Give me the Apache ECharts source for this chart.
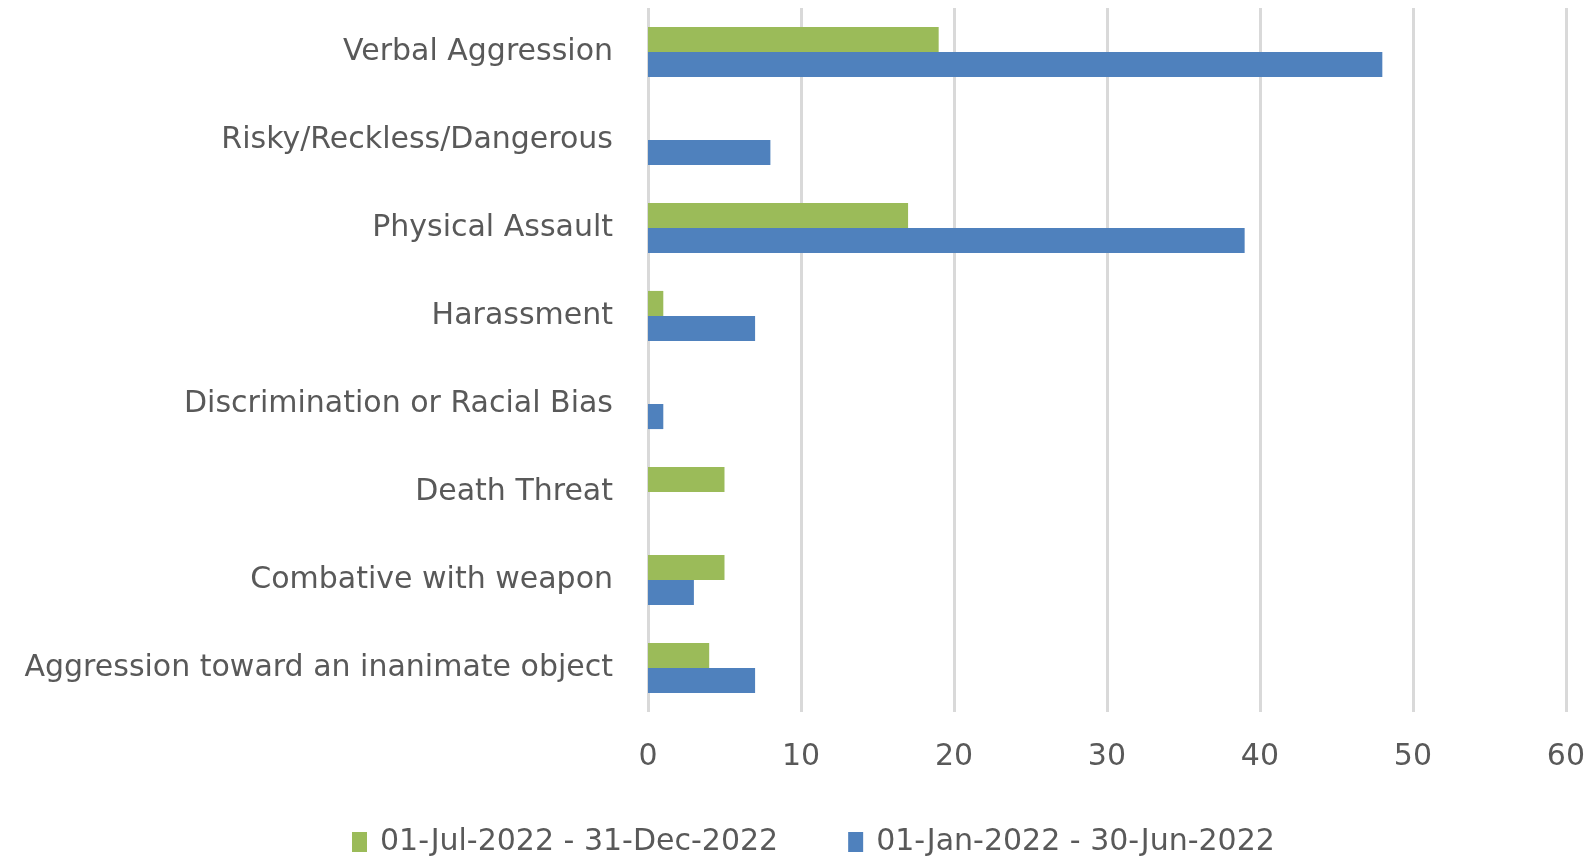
<!DOCTYPE html>
<html><head><meta charset="utf-8">
<script src="https://cdn.jsdelivr.net/npm/echarts@6/dist/echarts.min.js"></script>
<style>html,body{margin:0;padding:0;background:#fff}#c{width:1588px;height:856px}</style>
</head><body><div id="c"></div>
<script>
const categories = ["Aggression toward an inanimate object","Combative with weapon","Death Threat","Discrimination or Racial Bias","Harassment","Physical Assault","Risky/Reckless/Dangerous","Verbal Aggression"];
const seriesNames = ["01-Jul-2022 - 31-Dec-2022","01-Jan-2022 - 30-Jun-2022"];
const julDec = [4,5,5,0,1,17,0,19];
const janJun = [7,3,0,1,7,39,8,48];
const xTicks = [0,10,20,30,40,50,60];

const font = "DejaVu Sans";
const chart = echarts.init(document.getElementById('c'));
chart.setOption({
  animation:false,
  textStyle:{fontFamily:font},
  grid:{left:648,right:20,top:8,bottom:144,containLabel:false},
  legend:{data:seriesNames,left:347,top:822,itemWidth:15,itemHeight:20,itemGap:70,icon:'rect',
    textStyle:{fontSize:30,color:'#595959',fontFamily:font,padding:[0,0,0,8]}},
  xAxis:{type:'value',min:xTicks[0],max:xTicks[xTicks.length-1],interval:10,
    axisLine:{show:false},axisTick:{show:false},
    axisLabel:{fontSize:30,color:'#595959',margin:30},
    splitLine:{lineStyle:{color:'#d9d9d9',width:3}}},
  yAxis:{type:'category',data:categories,axisLine:{show:false},axisTick:{show:false},
    axisLabel:{fontSize:30,color:'#595959',margin:35}},
  series:[
    {name:seriesNames[0],type:'bar',data:julDec,itemStyle:{color:'#9BBB59'},barGap:'0%',barCategoryGap:'43%'},
    {name:seriesNames[1],type:'bar',data:janJun,itemStyle:{color:'#4F81BD'},barGap:'0%',barCategoryGap:'43%'}
  ]
});
</script></body></html>
